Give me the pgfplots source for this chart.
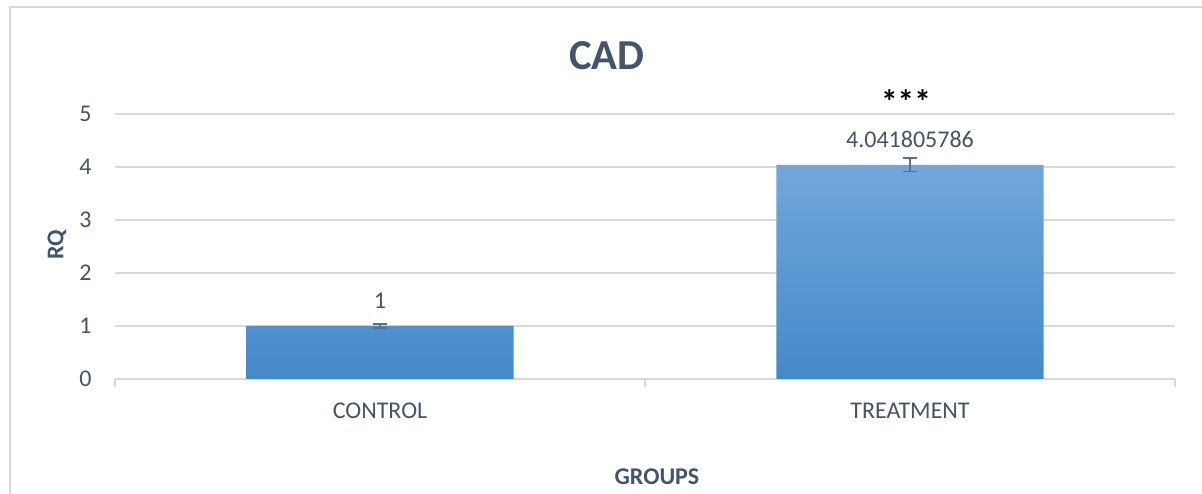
\documentclass[border=0pt]{standalone}
\usepackage{pgfplots}
\pgfplotsset{compat=1.18}
\usepackage{fontspec}
\setmainfont{Carlito}
\definecolor{txt}{HTML}{44546A}
\definecolor{gridc}{HTML}{D9D9D9}
\definecolor{bartop}{HTML}{71A7DC}
\definecolor{barbot}{HTML}{4589CA}
\definecolor{errc}{HTML}{5B6F8C}
\begin{document}
\begin{tikzpicture}
\begin{scope}[x=0.375pt,y=0.375pt]
\path[use as bounding box, fill=white] (0,0) rectangle (1202,488);
\draw[gridc, line width=0.75pt] (10,-20) -- (10,481) -- (1230,481);
\end{scope}
\begin{axis}[
  at={(43.125pt,40.875pt)}, anchor=south west, scale only axis,
  width=397.5pt, height=99.375pt,
  xmin=-0.5, xmax=1.5, ymin=0, ymax=5,
  ybar, bar width=0.504, bar shift=0pt,
  axis line style={draw=none},
  ytick={0,1,2,3,4,5}, ymajorgrids, grid style={gridc, line width=0.75pt},
  major tick length=0pt,
  xtick={0,1}, xticklabels={CONTROL,TREATMENT},
  minor xtick={-0.5,0.5,1.5}, minor tick length=3pt, tick align=outside,
  xtick pos=left, ytick style={draw=none},
  minor x tick style={gridc, line width=0.75pt},
  tick label style={font=\fontsize{9}{11}\selectfont, text=txt},
  yticklabel style={anchor=east, inner sep=0pt, xshift=-8.6pt},
  xticklabel style={anchor=center, inner sep=0pt, yshift=-12pt},
  /pgf/number format/assume math mode=true,
  nodes near coords, point meta=explicit symbolic,
  nodes near coords style={anchor=center, yshift=9.6pt, inner sep=0pt, font=\fontsize{9}{11}\selectfont, text=txt},
  clip=false,
  error bars/y dir=both, error bars/y explicit,
  error bars/error bar style={errc, line width=0.5pt},
  error bars/error mark options={rotate=90, errc, mark size=2.6pt, line width=0.5pt},
]
\addplot[draw=none, top color=bartop, bottom color=barbot]
  table[x=x, y=y, y error=e, meta=l] {
x y e l
0 1 0.04 1
1 4.041805786 0.13 4.041805786
};
\end{axis}
\begin{scope}[x=0.375pt,y=0.375pt]
\node[font=\fontsize{16}{18}\selectfont\bfseries, text=txt] at (607,432) {CAD};
\node[font=\fontsize{12.5}{14}\selectfont\bfseries, text=black] at (906,386) {***};
\node[font=\fontsize{9}{11}\selectfont\bfseries, text=txt, rotate=90] at (57,243) {RQ};
\node[font=\fontsize{9}{11}\selectfont\bfseries, text=txt] at (657,11) {GROUPS};
\end{scope}
\end{tikzpicture}
\end{document}
